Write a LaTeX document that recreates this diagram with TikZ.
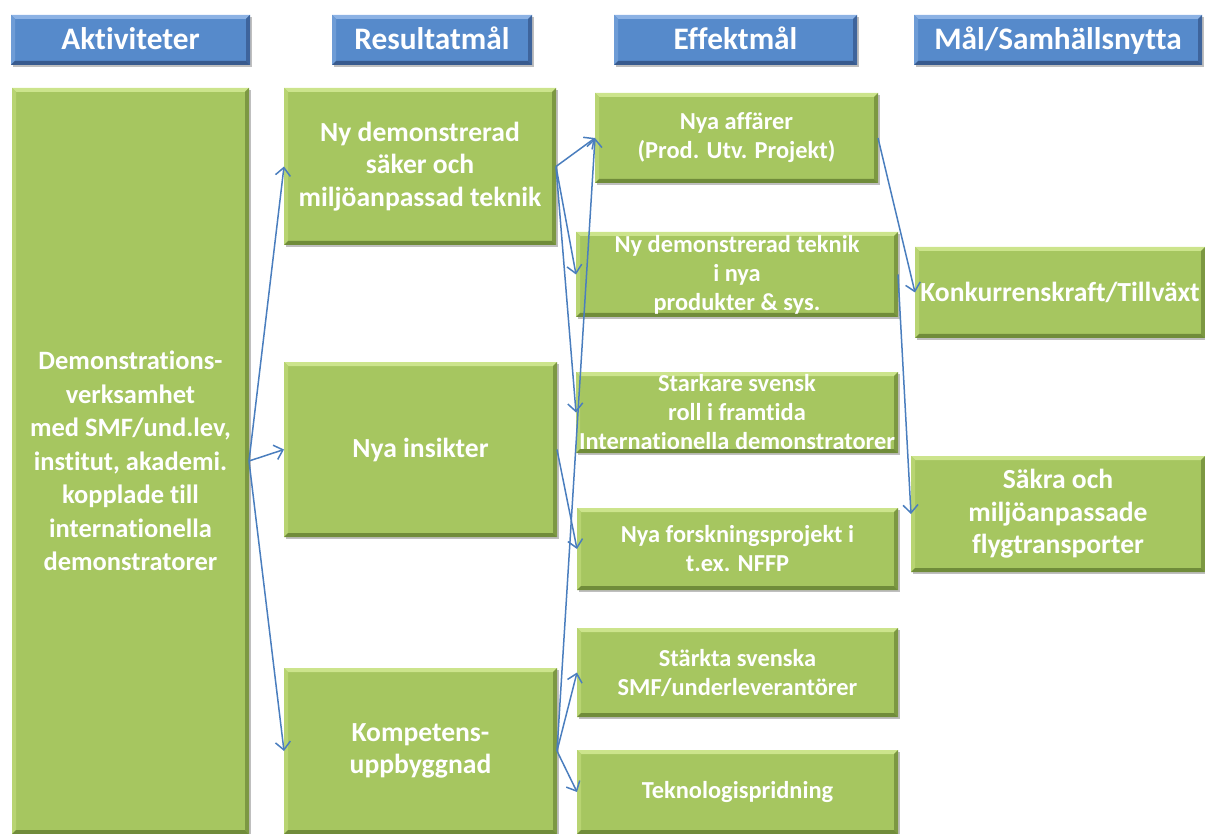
\documentclass[tikz,border=0pt]{standalone}
\usepackage{fontspec}
\setmainfont{Carlito}[RawFeature={-liga;-clig;-dlig}]
\usetikzlibrary{arrows.meta,shadows}
\definecolor{gmain}{RGB}{166,198,96}
\definecolor{gtop}{RGB}{204,228,140}
\definecolor{gleft}{RGB}{184,212,114}
\definecolor{gright}{RGB}{124,152,66}
\definecolor{gbot}{RGB}{112,140,58}
\definecolor{bmain}{RGB}{86,138,203}
\definecolor{btop}{RGB}{140,178,228}
\definecolor{bleft}{RGB}{110,156,214}
\definecolor{bright}{RGB}{62,100,156}
\definecolor{bbot}{RGB}{56,90,142}
\definecolor{arrowblue}{RGB}{74,126,190}
\tikzset{
  bevel/.style n args={4}{path picture={
    \coordinate (bvnw) at (path picture bounding box.north west);
    \coordinate (bvne) at (path picture bounding box.north east);
    \coordinate (bvsw) at (path picture bounding box.south west);
    \coordinate (bvse) at (path picture bounding box.south east);
    \fill[#1] (bvnw) -- (bvne) -- ([xshift=-4pt,yshift=-4pt]bvne) -- ([xshift=4pt,yshift=-4pt]bvnw) -- cycle;
    \fill[#2] (bvnw) -- (bvsw) -- ([xshift=4pt,yshift=4pt]bvsw) -- ([xshift=4pt,yshift=-4pt]bvnw) -- cycle;
    \fill[#3] (bvne) -- (bvse) -- ([xshift=-4pt,yshift=4pt]bvse) -- ([xshift=-4pt,yshift=-4pt]bvne) -- cycle;
    \fill[#4] (bvsw) -- (bvse) -- ([xshift=-4pt,yshift=4pt]bvse) -- ([xshift=4pt,yshift=4pt]bvsw) -- cycle;
  }},
  basebox/.style={rectangle, inner sep=0pt, outer sep=0pt, align=center, text=white,
    drop shadow={shadow xshift=2pt, shadow yshift=-2pt, fill=black, opacity=0.25}},
  hbox/.style={basebox, fill=bmain, bevel={btop}{bleft}{bright}{bbot},
    minimum height=50pt, text height=22pt, text depth=2pt,
    font=\fontsize{31.3}{36}\selectfont\bfseries},
  gbox/.style={basebox, fill=gmain, bevel={gtop}{gleft}{gright}{gbot},
    font=\fontsize{27.6}{32.5}\selectfont\bfseries},
  gleftbox/.style={gbox, font=\fontsize{26.5}{33.5}\selectfont\bfseries},
  gsmall/.style={gbox, font=\fontsize{24.4}{29}\selectfont\bfseries},
  arr/.style={draw=arrowblue, line width=1.5pt, -{Straight Barb[length=8pt,width=15pt,line width=1.5pt]}}
}
\begin{document}
\begin{tikzpicture}[x=1pt,y=-1pt]
\useasboundingbox (0,0) rectangle (1205,834);
% headers
\node[hbox, minimum width=239] (h1) at (130.5,40) {Aktiviteter};
\node[hbox, minimum width=200] (h2) at (432,40) {Resultatmål};
\node[hbox, minimum width=243] (h3) at (735.5,40) {Effektmål};
\node[hbox, minimum width=288] (h4) at (1058,40) {Mål/Samhällsnytta};
% column 1
\node[gleftbox, minimum width=237, minimum height=746] (act) at (130.5,461)
  {Demonstrations-\\verksamhet\\med SMF/und.lev,\\institut, akademi.\\kopplade till\\internationella\\demonstratorer};
% column 2
\node[gbox, minimum width=272, minimum height=157] (ndemo) at (420,166.5)
  {Ny demonstrerad\\säker och\\miljöanpassad teknik};
\node[gbox, minimum width=273, minimum height=175] (insikt) at (420.5,449.5) {Nya insikter};
\node[gbox, minimum width=273, minimum height=166] (komp) at (420.5,751) {Kompetens-\\uppbyggnad};
% column 3
\node[gsmall, minimum width=283, minimum height=90] (affar) at (736.5,138) {Nya affärer\\(Prod. Utv. Projekt)};
\node[gsmall, minimum width=322, minimum height=85] (teknik) at (737,274.5) {Ny demonstrerad teknik\\i nya\\produkter \& sys.};
\node[gsmall, minimum width=322, minimum height=81] (stark) at (737,412.5) {Starkare svensk\\roll i framtida\\Internationella demonstratorer};
\node[gsmall, minimum width=321, minimum height=82] (forsk) at (737.5,549) {Nya forskningsprojekt i\\t.ex. NFFP};
\node[gsmall, minimum width=321, minimum height=89] (starkta) at (737.5,672.5) {Stärkta svenska\\SMF/underleverantörer};
\node[gsmall, minimum width=321, minimum height=84] (tekno) at (737.5,792) {Teknologispridning};
% column 4
\node[gbox, minimum width=290, minimum height=91] (konk) at (1060,292.5) {Konkurrenskraft/Tillväxt};
\node[gbox, minimum width=294, minimum height=116] (sakra) at (1058,514) {Säkra och\\miljöanpassade\\flygtransporter};
% connectors
\draw[arr] (act.east) -- (ndemo.west);
\draw[arr] (act.east) -- (insikt.west);
\draw[arr] (act.east) -- (komp.west);
\draw[arr] (ndemo.east) -- (affar.west);
\draw[arr] (ndemo.east) -- (teknik.west);
\draw[arr] (ndemo.east) -- (stark.west);
\draw[arr] (insikt.east) -- (forsk.west);
\draw[arr] (komp.east) -- (affar.west);
\draw[arr] (komp.east) -- (starkta.west);
\draw[arr] (komp.east) -- (tekno.west);
\draw[arr] (affar.east) -- (konk.west);
\draw[arr] (teknik.east) -- (sakra.west);
\end{tikzpicture}
\end{document}
